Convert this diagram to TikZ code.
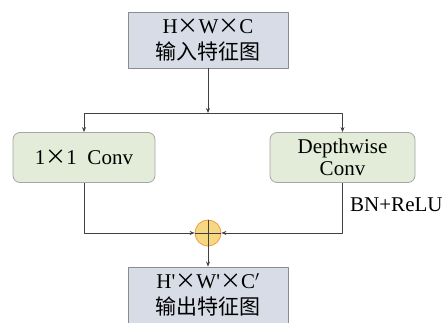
\documentclass[tikz,border=0pt]{standalone}
\usepackage{fontspec}
\setmainfont{Liberation Serif}
\newfontfamily\cjk{Noto Sans CJK SC}
\usetikzlibrary{positioning,arrows.meta}
\definecolor{mapfill}{HTML}{D7DCE6}
\definecolor{convfill}{HTML}{E2ECD8}
\definecolor{addfill}{HTML}{F6D883}
\definecolor{linegray}{HTML}{404040}
\newcommand{\tm}{{\cjk ×}}
\tikzset{
  featmap/.style={draw=gray!90, line width=0.9pt, fill=mapfill, minimum width=160pt,
    minimum height=56pt, inner sep=0pt, align=center, font=\fontsize{21}{28}\selectfont},
  convbox/.style={draw=gray!70, line width=0.8pt, fill=convfill, rounded corners=7pt,
    minimum height=50pt, inner sep=0pt, align=center, font=\fontsize{21}{22}\selectfont},
  addnode/.style={circle, draw=orange!70!brown!80, line width=0.8pt, fill=addfill,
    minimum size=26pt, inner sep=0pt},
  flow/.style={draw=linegray, line width=0.8pt, -{Stealth[length=5pt,width=4pt]}}
}
\begin{document}
\begin{tikzpicture}[x=1pt, y=-1pt, line join=round]
  \useasboundingbox (0,0) rectangle (445,323);
  % feature maps
  \node[featmap] (inmap) at (208,40) {H\tm W\tm C\\[-2pt]{\cjk 输入特征图}};
  \node[featmap] (outmap) at (208,295) {H\textquotesingle\tm W\textquotesingle\tm C$'$\\[-2pt]{\cjk 输出特征图}};
  % two branches
  \node[convbox, minimum width=142pt] (conv1) at (84,157.5) {1\tm 1~~Conv};
  \node[convbox, minimum width=145pt] (dwconv) at (342.5,157.5) {Depthwise\\Conv};
  \node[addnode] (addop) at (208,233) {};
  \draw[linegray, line width=0.6pt] (addop.north) -- (addop.south) (addop.west) -- (addop.east);
  \coordinate (split) at (208,113);
  % connectors
  \draw[flow] (inmap) -- (split);
  \draw[flow] (split) -| (conv1);
  \draw[flow] (split) -| (dwconv);
  \draw[flow] (conv1) |- (addop);
  \draw[flow] (dwconv) |- node[pos=0.22, right=4pt, font=\fontsize{21}{22}\selectfont] (bnrelu) {BN+ReLU} (addop);
  \draw[flow] (addop) -- (outmap);
\end{tikzpicture}
\end{document}
